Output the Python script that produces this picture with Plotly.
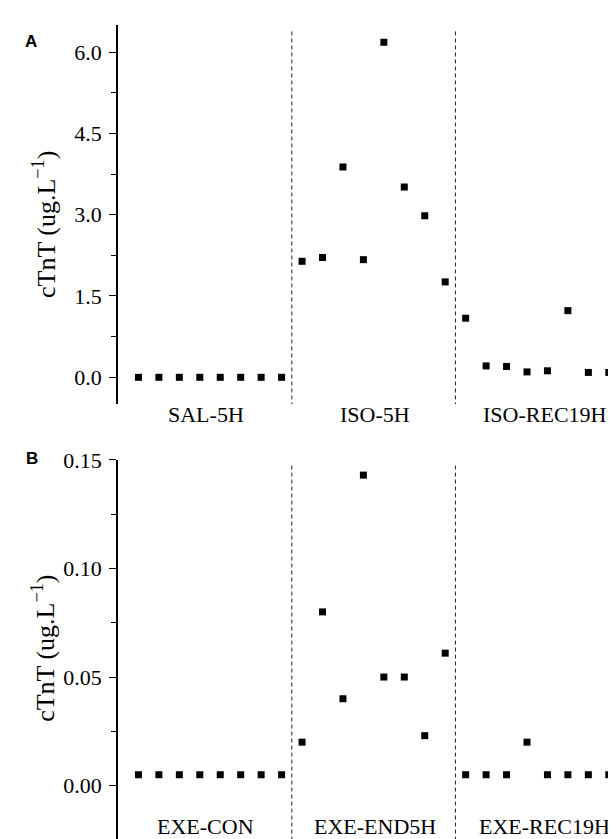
import plotly.graph_objects as go

# ---- data ----
groups_a = ["SAL-5H", "ISO-5H", "ISO-REC19H"]
sal_5h = [0.0, 0.0, 0.0, 0.0, 0.0, 0.0, 0.0, 0.0]
iso_5h = [2.14, 2.21, 3.88, 2.17, 6.18, 3.51, 2.98, 1.76]
iso_rec19h = [1.09, 0.21, 0.20, 0.10, 0.12, 1.23, 0.09, 0.09]

groups_b = ["EXE-CON", "EXE-END5H", "EXE-REC19H"]
exe_con = [0.005, 0.005, 0.005, 0.005, 0.005, 0.005, 0.005, 0.005]
exe_end5h = [0.020, 0.080, 0.040, 0.143, 0.050, 0.050, 0.023, 0.061]
exe_rec19h = [0.005, 0.005, 0.005, 0.020, 0.005, 0.005, 0.005, 0.005]

ticks_a = [0.0, 1.5, 3.0, 4.5, 6.0]
ticks_b = [0.00, 0.05, 0.10, 0.15]

y_title = "cTnT (ug.L<sup>−1</sup>)"

W, H = 616, 839
OFF = 8  # page body margin in the viewer
SERIF = "Liberation Serif"

vals_a = sal_5h + iso_5h + iso_rec19h
vals_b = exe_con + exe_end5h + exe_rec19h
xs = list(range(1, len(vals_a) + 1))

fig = go.Figure()
marker = dict(symbol="square", size=7, color="black")
fig.add_trace(go.Scatter(x=xs, y=vals_a, mode="markers", marker=marker,
                         xaxis="x", yaxis="y", showlegend=False, cliponaxis=False))
fig.add_trace(go.Scatter(x=xs, y=vals_b, mode="markers", marker=marker,
                         xaxis="x2", yaxis="y2", showlegend=False, cliponaxis=False))


def py(p):
    """screen pixel y -> paper fraction"""
    return 1 - (p - OFF) / H


def px(p):
    """screen pixel x -> paper fraction"""
    return (p - OFF) / W


x_left = 118
x_step = 20.45
xdom = [px(x_left), 1.0]
xrange_ = [0, (W + OFF - x_left) / x_step]

yaxis_common = dict(
    showline=True, linecolor="black", linewidth=1.5,
    ticks="outside", ticklen=7, tickwidth=1.3, tickcolor="black",
    showgrid=False, zeroline=False,
    tickfont=dict(family=SERIF, size=22, color="black"),
    ticklabelstandoff=3,
)

# panel B extends to the bottom of the page
b_top, b_zero = 454.3, 784.7
b_scale = 0.15 / (b_zero - b_top)
b_bottom_val = -(H + OFF - b_zero) * b_scale

fig.update_layout(
    width=W, height=H,
    margin=dict(l=0, r=0, t=0, b=0),
    paper_bgcolor="white", plot_bgcolor="white",
    xaxis=dict(domain=xdom, range=xrange_, anchor="y", showline=False,
               showticklabels=False, ticks="", showgrid=False, zeroline=False),
    xaxis2=dict(domain=xdom, range=xrange_, anchor="y2", showline=False,
                showticklabels=False, ticks="", showgrid=False, zeroline=False),
    yaxis=dict(domain=[py(398), py(13)], range=[-0.5, 6.5], anchor="x",
               tickvals=ticks_a, ticktext=[f"{v:.1f}" for v in ticks_a],
               minor=dict(ticks="outside", ticklen=5, tickwidth=1.3, tickcolor="black",
                          tickvals=[0.75, 2.25, 3.75, 5.25]),
               **yaxis_common),
    yaxis2=dict(domain=[0.0, py(b_top)], range=[b_bottom_val, 0.15], anchor="x2",
                tickvals=ticks_b, ticktext=[f"{v:.2f}" for v in ticks_b],
                minor=dict(ticks="outside", ticklen=5, tickwidth=1.3, tickcolor="black",
                           tickvals=[0.025, 0.075, 0.125]),
                **yaxis_common),
)

# dashed separators
dash_line = dict(color="#222222", width=1, dash="4px,3px")
for xv in (8.5, 16.5):
    fig.add_shape(type="line", xref="x", yref="y", x0=xv, x1=xv, y0=6.38, y1=-0.5, line=dash_line)
    fig.add_shape(type="line", xref="x2", yref="y2", x0=xv, x1=xv, y0=0.1474, y1=b_bottom_val,
                  line=dash_line)

# category labels
label_x = [4.28, 12.57, 20.86]
for gx, ga, gb in zip(label_x, groups_a, groups_b):
    fig.add_annotation(text=ga, x=gx, xref="x", y=py(408), yref="paper",
                       xanchor="center", yanchor="middle",
                       showarrow=False, font=dict(family=SERIF, size=22, color="black"))
    fig.add_annotation(text=gb, x=gx, xref="x2", y=py(826), yref="paper",
                       xanchor="center", yanchor="middle",
                       showarrow=False, font=dict(family=SERIF, size=22, color="black"))

# y titles
for ty in (216, 646):
    fig.add_annotation(text=y_title, x=px(44), xref="paper", y=py(ty), yref="paper",
                       xanchor="center", yanchor="middle",
                       textangle=-90, showarrow=False,
                       font=dict(family=SERIF, size=26, color="black"))

# panel letters
fig.add_annotation(text="<b>A</b>", x=px(31), xref="paper", y=py(29.5), yref="paper",
                   xanchor="center", yanchor="middle",
                   showarrow=False, font=dict(family="Liberation Sans", size=17, color="black"))
fig.add_annotation(text="<b>B</b>", x=px(32), xref="paper", y=py(452.7), yref="paper",
                   xanchor="center", yanchor="middle",
                   showarrow=False, font=dict(family="Liberation Sans", size=17, color="black"))

fig.write_html("out.html")
